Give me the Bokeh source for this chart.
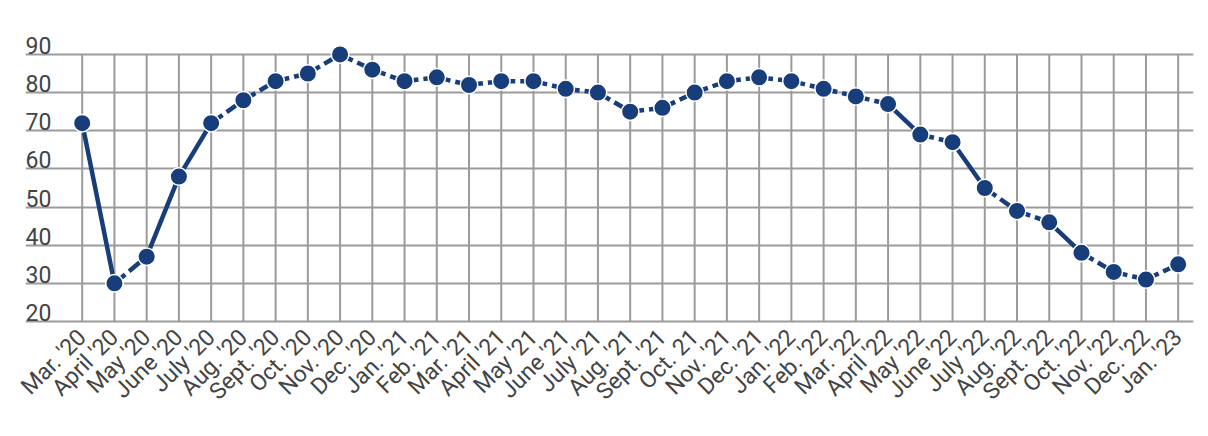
import math
from bokeh.plotting import figure
from bokeh.models import Range1d, FixedTicker, Grid
from bokeh.core.properties import value
from bokeh.embed import file_html
from bokeh.resources import INLINE

months = ["Mar. '20", "April '20", "May '20", "June '20", "July '20", "Aug. '20",
          "Sept. '20", "Oct. '20", "Nov. '20", "Dec. '20", "Jan. '21", "Feb. '21",
          "Mar. '21", "April '21", "May '21", "June '21", "July '21", "Aug. '21",
          "Sept. '21", "Oct. 21", "Nov. '21", "Dec. '21", "Jan. '22", "Feb. '22",
          "Mar. '22", "April '22", "May '22", "June '22", "July '22", "Aug. '22",
          "Sept. '22", "Oct. '22", "Nov. '22", "Dec. '22", "Jan. '23"]
share = [72, 30, 37, 58, 72, 78, 83, 85, 90, 86, 83, 84, 82, 83, 83, 81, 80, 75,
         76, 80, 83, 84, 83, 81, 79, 77, 69, 67, 55, 49, 46, 38, 33, 31, 35]
# line style of the segment leaving each month (True = dashed)
seg_dashed = [False, True, False, False, True, True, True, True, True, True, True,
              True, True, True, True, True, True, True, True, True, True, True,
              True, True, True, False, True, False, True, True, False, True,
              True, True]
y_ticks = [20, 30, 40, 50, 60, 70, 80, 90]

NAVY = "#173d7a"
GRID = "#9b9b9b"
TEXT = "#444444"

xs = list(range(len(months)))

p = figure(width=1200, height=428, output_backend="svg", toolbar_location=None,
           x_range=Range1d(-1.759, 34.475), y_range=Range1d(19.48, 98.9),
           y_axis_location=None,
           min_border_left=25, min_border_right=7, min_border_top=20,
           min_border_bottom=105)
p.outline_line_color = None
p.background_fill_color = "white"
p.border_fill_color = "white"
p.xgrid.visible = False
p.ygrid.visible = False

p.add_layout(Grid(dimension=1, ticker=FixedTicker(ticks=y_ticks),
                  grid_line_color=GRID, grid_line_width=2))

# vertical grid lines, one per month, spanning the tick range
p.segment(x0=xs, x1=xs, y0=[min(y_ticks)] * len(xs), y1=[max(y_ticks)] * len(xs),
          line_color=GRID, line_width=2)

# y labels sitting above their grid lines
p.text(x=[-1.759] * len(y_ticks), y=y_ticks, text=[str(t) for t in y_ticks],
       text_font=value("Roboto"), text_font_size="23px", text_color=TEXT,
       text_baseline="alphabetic", text_align="left", x_offset=0, y_offset=-9)

# line segments
sx0, sy0, sx1, sy1 = [], [], [], []
dx0, dy0, dx1, dy1 = [], [], [], []
for i, d in enumerate(seg_dashed):
    if d:
        dx0.append(xs[i]); dy0.append(share[i]); dx1.append(xs[i + 1]); dy1.append(share[i + 1])
    else:
        sx0.append(xs[i]); sy0.append(share[i]); sx1.append(xs[i + 1]); sy1.append(share[i + 1])

p.segment(x0=sx0, y0=sy0, x1=sx1, y1=sy1, line_color=NAVY, line_width=4.5)
p.segment(x0=dx0, y0=dy0, x1=dx1, y1=dy1, line_color=NAVY, line_width=4.5,
          line_dash="14 5")

p.scatter(xs, share, size=17.5, fill_color=NAVY, line_color="white", line_width=1.5)

ax = p.xaxis[0]
ax.ticker = FixedTicker(ticks=xs)
ax.major_label_overrides = {i: m for i, m in enumerate(months)}
ax.major_label_orientation = math.pi / 4
ax.axis_line_color = None
ax.major_tick_line_color = None
ax.minor_tick_line_color = None
ax.major_label_text_font = "Roboto"
ax.major_label_text_font_size = "23px"
ax.major_label_text_color = TEXT
ax.major_label_standoff = 4

open("out.html", "w").write(file_html(p, INLINE))
